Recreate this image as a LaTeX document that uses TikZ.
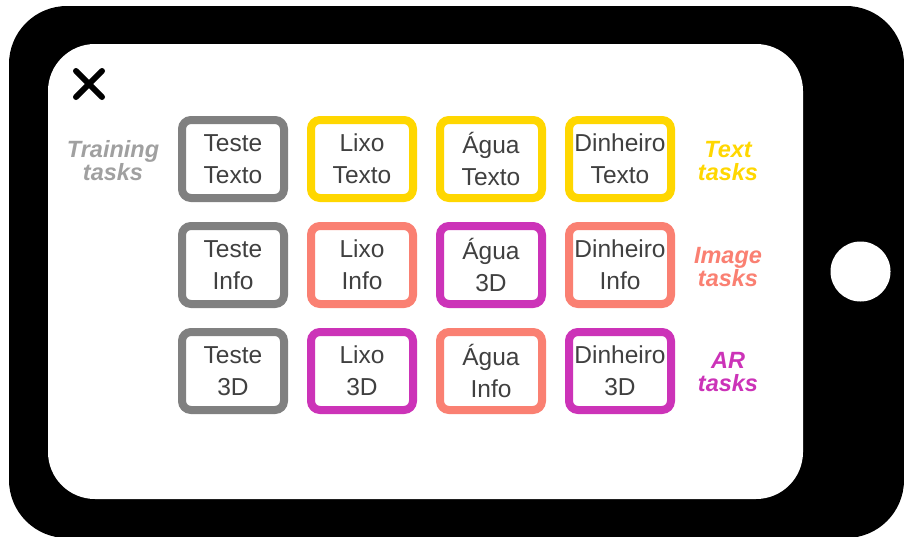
\documentclass[tikz,border=0pt]{standalone}
\usepackage{fontspec}
\setmainfont{Liberation Sans}
\definecolor{graybox}{HTML}{808080}
\definecolor{yelbox}{HTML}{FFD700}
\definecolor{salbox}{HTML}{FA8072}
\definecolor{magbox}{HTML}{CC33B8}
\definecolor{trainlbl}{HTML}{A0A0A0}
\definecolor{boxtext}{HTML}{404040}
\tikzset{
  taskbox/.style={draw=#1, line width=8pt, rounded corners=9pt, fill=white,
    minimum width=102pt, minimum height=78pt, inner sep=0pt, align=center,
    text=boxtext, font=\fontsize{24.5}{32}\selectfont},
  grouplabel/.style={text=#1, align=center, inner sep=0pt,
    font=\fontsize{23.5}{23}\selectfont\bfseries\itshape}
}
\begin{document}
\begin{tikzpicture}[x=1pt,y=-1pt]
\useasboundingbox (0,0) rectangle (904,536);
% phone body
\fill[black, rounded corners=58pt] (9,6) rectangle (904,538);
% screen
\node[fill=white, rounded corners=47pt, minimum width=755pt, minimum height=455pt, inner sep=0pt] (screen) at (425.5,271.5) {};
% home button
\node[circle, fill=white, minimum size=60pt, inner sep=0pt] (button) at (860.5,271.5) {};
% close mark
\coordinate (xa) at (76,71);
\coordinate (xb) at (102,97);
\coordinate (xc) at (102,71);
\coordinate (xd) at (76,97);
\draw[line width=6pt, line cap=round] (xa) -- (xb);
\draw[line width=6pt, line cap=round] (xc) -- (xd);
% row 1
\node[taskbox=graybox] (b11) at (233,159) {Teste\\Texto};
\node[taskbox=yelbox] (b12) at (362,159) {Lixo\\Texto};
\node[taskbox=yelbox] (b13) at (491,159) {Água\\Texto};
\node[taskbox=yelbox] (b14) at (620,159) {Dinheiro\\Texto};
% row 2
\node[taskbox=graybox] (b21) at (233,265) {Teste\\Info};
\node[taskbox=salbox] (b22) at (362,265) {Lixo\\Info};
\node[taskbox=magbox] (b23) at (491,265) {Água\\3D};
\node[taskbox=salbox] (b24) at (620,265) {Dinheiro\\Info};
% row 3
\node[taskbox=graybox] (b31) at (233,371) {Teste\\3D};
\node[taskbox=magbox] (b32) at (362,371) {Lixo\\3D};
\node[taskbox=salbox] (b33) at (491,371) {Água\\Info};
\node[taskbox=magbox] (b34) at (620,371) {Dinheiro\\3D};
% labels
\node[grouplabel=trainlbl] (ltrain) at (113,161) {Training\\tasks};
\node[grouplabel=yelbox] (ltext) at (728,161) {Text\\tasks};
\node[grouplabel=salbox] (limage) at (728,267) {Image\\tasks};
\node[grouplabel=magbox] (lar) at (728,372) {AR\\tasks};
\end{tikzpicture}
\end{document}
